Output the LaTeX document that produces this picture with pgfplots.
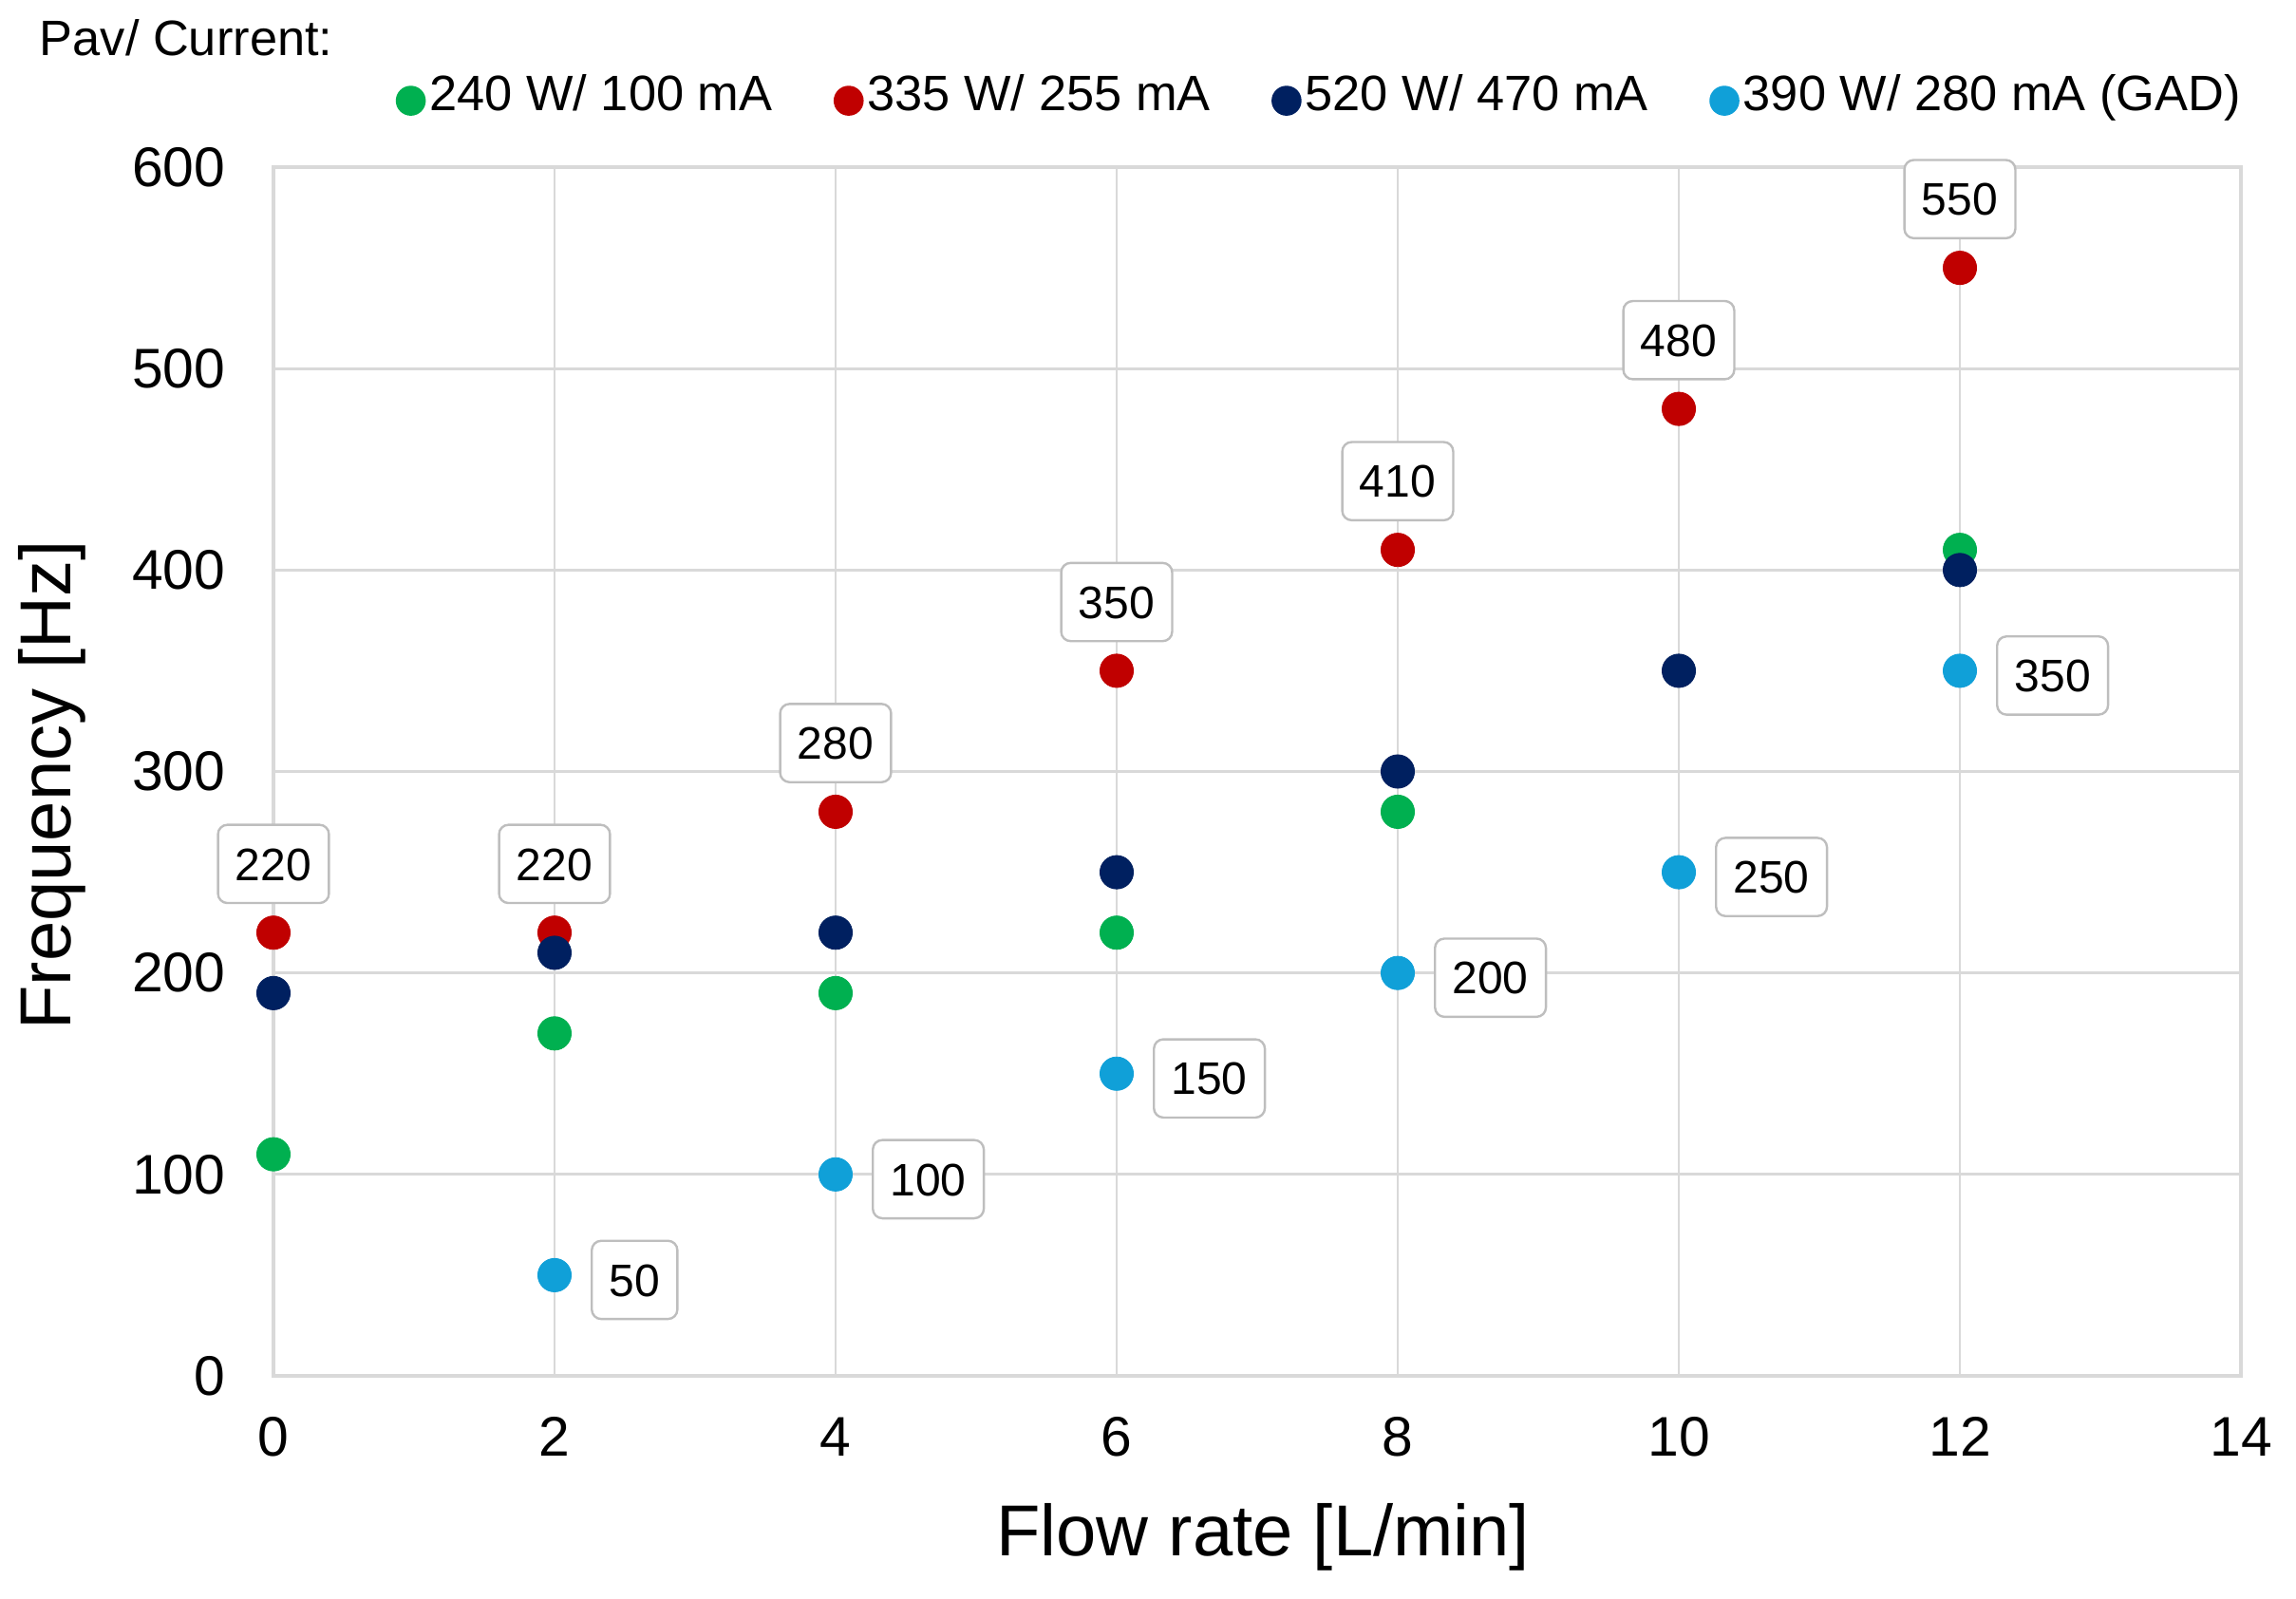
\documentclass[border=0pt]{standalone}
\usepackage{pgfplots}
\pgfplotsset{compat=1.18}
\usepackage{fontspec}
\setmainfont{Liberation Sans}
\definecolor{cgreen}{RGB}{0,176,80}
\definecolor{cred}{RGB}{192,0,0}
\definecolor{cnavy}{RGB}{0,32,96}
\definecolor{cblue}{RGB}{16,160,216}
\definecolor{gridgray}{RGB}{217,217,217}
\definecolor{boxgray}{RGB}{190,190,190}
\tikzset{labelbox/.style={draw=boxgray, line width=0.6pt, rounded corners=2.5pt, fill=white, text=black,
  font=\fontsize{12}{14}\selectfont, inner xsep=4.6pt, inner ysep=6pt, text height=8.6pt, text depth=0pt}}
\begin{document}
\begin{tikzpicture}
\path[use as bounding box] (-72pt,-58.5pt) rectangle (532.5pt,362.25pt);
\begin{axis}[
  at={(0pt,0pt)}, anchor=south west,
  width=518pt, height=318.25pt, scale only axis,
  xmin=0, xmax=14, ymin=0, ymax=600,
  xtick={0,2,...,14}, ytick={0,100,...,600},
  clip=false,
  grid=major,
  major grid style={draw=gridgray, line width=0.7pt},
  axis line style={draw=gridgray, line width=0.8pt},
  major tick length=0pt,
  tick style={draw=none},
  /pgf/number format/assume math mode=true,
  ticklabel style={font=\fontsize{14.7}{17}\selectfont, inner sep=0pt},
  xticklabel style={anchor=north, yshift=-10.75pt},
  yticklabel style={anchor=east, xshift=-12.5pt},
  xlabel={Flow rate [L/min]}, ylabel={Frequency [Hz]},
  label style={font=\fontsize{19}{22}\selectfont, inner sep=0pt},
  xlabel style={at={(axis description cs:0.503,-0.14847)}, anchor=base},
  ylabel style={at={(axis description cs:-0.1028,0.4886)}, anchor=base},
  legend columns=4,
  legend style={at={(axis description cs:0.06178,1.0605)}, anchor=west, draw=none, fill=none,
    inner xsep=0pt, inner ysep=0pt, font=\fontsize{13.1}{15}\selectfont,
    nodes={inner sep=1pt, text height=9pt, text depth=0pt},
    /tikz/every even column/.append style={column sep=15.1pt}},
  legend image code/.code={\fill[#1] (0pt,-2pt) circle (3.75pt);},
]
\addplot[only marks, mark=*, color=cgreen, mark size=4.4pt, mark options={line width=0.2pt}]
  coordinates {(0,110) (2,170) (4,190) (6,220) (8,280) (12,410)};
\addlegendentry{240 W/ 100 mA}
\addplot[only marks, mark=*, color=cred, mark size=4.4pt, mark options={line width=0.2pt},
  nodes near coords, point meta=explicit symbolic,
  every node near coord/.append style={labelbox, anchor=south, yshift=7.5pt}]
  table[meta=lab] {
x y lab
0 220 220
2 220 220
4 280 280
6 350 350
8 410 410
10 480 480
12 550 550
};
\addlegendentry{335 W/ 255 mA}
\addplot[only marks, mark=*, color=cnavy, mark size=4.4pt, mark options={line width=0.2pt}]
  coordinates {(0,190) (2,210) (4,220) (6,250) (8,300) (10,350) (12,400)};
\addlegendentry{520 W/ 470 mA}
\addplot[only marks, mark=*, color=cblue, mark size=4.4pt, mark options={line width=0.2pt},
  nodes near coords, point meta=explicit symbolic,
  every node near coord/.append style={labelbox, anchor=west, xshift=9.5pt, yshift=-1.25pt}]
  table[meta=lab] {
x y lab
2 50 50
4 100 100
6 150 150
8 200 200
10 250 250
12 350 350
};
\addlegendentry{390 W/ 280 mA (GAD)}
\end{axis}
\node[anchor=base west, inner sep=0pt, font=\fontsize{13.1}{15}\selectfont] at (-61.75pt,347.5pt) {Pav/ Current:};
\end{tikzpicture}
\end{document}
